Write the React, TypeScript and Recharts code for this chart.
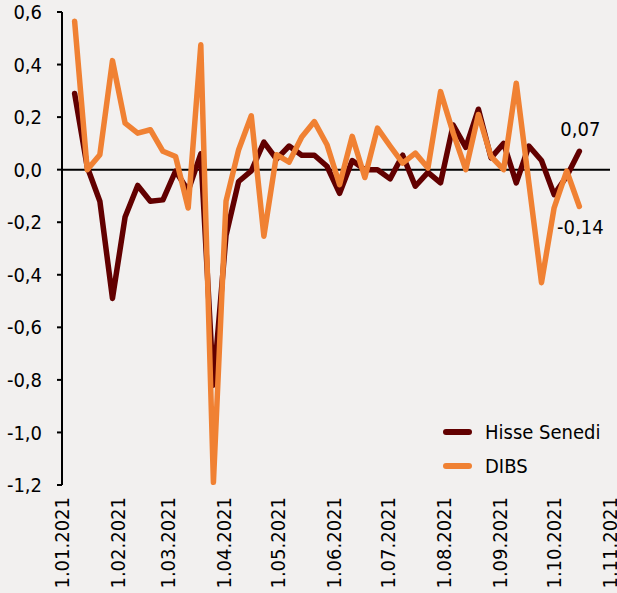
import React from 'react';
import { LineChart, Line, XAxis, YAxis, ReferenceLine, LabelList } from 'recharts';

const dates = [
  '8.01.2021', '15.01.2021', '22.01.2021', '29.01.2021',
  '5.02.2021', '12.02.2021', '19.02.2021', '26.02.2021',
  '5.03.2021', '12.03.2021', '19.03.2021', '26.03.2021',
  '2.04.2021', '9.04.2021', '16.04.2021', '23.04.2021', '30.04.2021',
  '7.05.2021', '14.05.2021', '21.05.2021', '28.05.2021',
  '4.06.2021', '11.06.2021', '18.06.2021', '25.06.2021',
  '2.07.2021', '9.07.2021', '16.07.2021', '23.07.2021', '30.07.2021',
  '6.08.2021', '13.08.2021', '20.08.2021', '27.08.2021',
  '3.09.2021', '10.09.2021', '17.09.2021', '24.09.2021',
  '1.10.2021', '8.10.2021', '15.10.2021',
];

const hisseSenedi = [
  0.29, 0.01, -0.12, -0.49, -0.18, -0.06, -0.12, -0.115,
  -0.005, -0.08, 0.06, -0.82, -0.25, -0.045, -0.005, 0.105, 0.04,
  0.09, 0.055, 0.055, 0.013, -0.09, 0.035, 0.0, 0.0,
  -0.035, 0.055, -0.063, -0.01, -0.05, 0.17, 0.085, 0.23, 0.045,
  0.1, -0.05, 0.09, 0.035, -0.095, -0.025, 0.07,
];

const dibs = [
  0.565, 0.0, 0.057, 0.415, 0.177, 0.139, 0.152, 0.07,
  0.05, -0.146, 0.475, -1.19, -0.12, 0.076, 0.205, -0.253, 0.057,
  0.029, 0.124, 0.183, 0.095, -0.057, 0.127, -0.03, 0.158,
  0.09, 0.025, 0.063, 0.006, 0.297, 0.14, 0.0, 0.21, 0.05,
  0.0, 0.329, -0.05, -0.43, -0.145, -0.005, -0.14,
];

const xTickLabels = [
  '1.01.2021', '1.02.2021', '1.03.2021', '1.04.2021', '1.05.2021', '1.06.2021',
  '1.07.2021', '1.08.2021', '1.09.2021', '1.10.2021', '1.11.2021',
];

const yTicks = [-1.2, -1.0, -0.8, -0.6, -0.4, -0.2, 0, 0.2, 0.4, 0.6];
const yTickLabels = ['-1,2', '-1,0', '-0,8', '-0,6', '-0,4', '-0,2', '0,0', '0,2', '0,4', '0,6'];

const seriesNames = ['Hisse Senedi', 'DIBS'];
const colors = ['#620000', '#f08133'];

const FONT = "'DejaVu Sans Condensed', 'DejaVu Sans', sans-serif";

const dayOf = (s: string) => {
  const [d, m, y] = s.split('.').map(Number);
  return (Date.UTC(y, m - 1, d) - Date.UTC(2021, 0, 1)) / 86400000;
};

const data = dates.map((d, i) => ({
  day: dayOf(d),
  hisse: hisseSenedi[i],
  dibs: dibs[i],
}));

const xTicks = xTickLabels.map(dayOf);
const last = dates.length - 1;

const XTick = (props: any) => {
  const { x, y, payload } = props;
  const idx = xTicks.indexOf(payload.value);
  const label = idx >= 0 ? xTickLabels[idx] : '';
  const ty = y + 12;
  return (
    <text
      x={x}
      y={ty}
      transform={`rotate(-90, ${x}, ${ty})`}
      textAnchor="end"
      dominantBaseline="central"
      fontFamily={FONT}
      fontSize={20}
      fill="#000"
    >
      {label}
    </text>
  );
};

const fmt = (v: number) => v.toFixed(2).replace('.', ',');

const endLabel = (dy: number) => (props: any) => {
  const { x, y, index, value } = props;
  if (index !== last) return null;
  return (
    <text x={x + 1} y={y + dy} textAnchor="middle" fontFamily={FONT} fontSize={20} fill="#000">
      {fmt(value)}
    </text>
  );
};

const LegendBox = () => (
  <div
    style={{
      position: 'absolute',
      left: 443,
      top: 415,
      fontFamily: FONT,
      fontSize: 20,
      color: '#000',
      lineHeight: '20px',
    }}
  >
    {seriesNames.map((n, i) => (
      <div key={n} style={{ display: 'flex', alignItems: 'center', height: 34 }}>
        <span
          style={{
            display: 'inline-block',
            width: 29,
            height: 6,
            borderRadius: 3,
            background: colors[i],
            marginRight: 13,
          }}
        />
        <span>{n}</span>
      </div>
    ))}
  </div>
);

export default function App() {
  return (
    <div style={{ position: 'absolute', left: 0, top: 0, width: 617, height: 593, background: '#f2f0ef', overflow: 'hidden' }}>
      <LineChart width={617} height={593} data={data} margin={{ top: 12, right: 7, bottom: 8, left: 0 }}>
        <XAxis
          type="number"
          dataKey="day"
          domain={[0, 304]}
          ticks={xTicks}
          interval={0}
          axisLine={false}
          tickLine={false}
          tickSize={0}
          tickMargin={0}
          height={100}
          tick={<XTick />}
        />
        <YAxis
          type="number"
          domain={[-1.2, 0.6]}
          ticks={yTicks}
          interval={0}
          width={62}
          axisLine={{ stroke: '#000', strokeWidth: 2 }}
          tickLine={{ stroke: '#000', strokeWidth: 2 }}
          tickSize={5}
          tickMargin={15}
          tickFormatter={(v: number) => yTickLabels[yTicks.findIndex((t) => Math.abs(t - v) < 1e-9)]}
          tick={{ fill: '#000', fontSize: 20, fontFamily: FONT }}
        />
        <ReferenceLine y={0} stroke="#000" strokeWidth={2} />
        <Line
          type="linear"
          dataKey="hisse"
          name={seriesNames[0]}
          stroke={colors[0]}
          strokeWidth={5.5}
          strokeLinejoin="round"
          strokeLinecap="round"
          dot={false}
          activeDot={false}
          isAnimationActive={false}
        >
          <LabelList dataKey="hisse" content={endLabel(-15)} />
        </Line>
        <Line
          type="linear"
          dataKey="dibs"
          name={seriesNames[1]}
          stroke={colors[1]}
          strokeWidth={5.5}
          strokeLinejoin="round"
          strokeLinecap="round"
          dot={false}
          activeDot={false}
          isAnimationActive={false}
        >
          <LabelList dataKey="dibs" content={endLabel(28)} />
        </Line>
      </LineChart>
      <LegendBox />
    </div>
  );
}
